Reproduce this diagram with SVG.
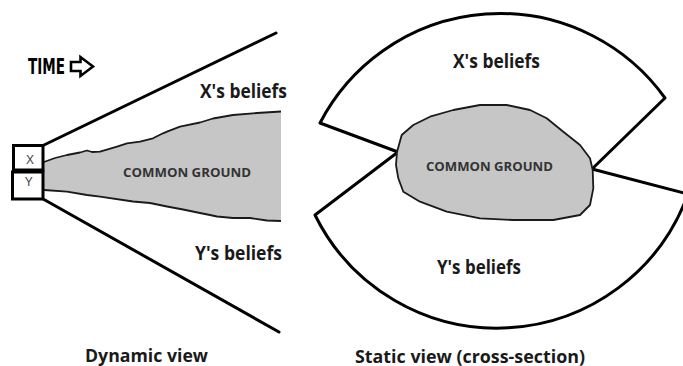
<svg xmlns="http://www.w3.org/2000/svg" width="683" height="366" viewBox="0 0 683 366">
<style>
.ln{fill:none;stroke:#000;stroke-width:3;stroke-linecap:round;stroke-linejoin:round}
.edge{fill:none;stroke:#1a1a1a;stroke-width:1.8;stroke-linejoin:round}
.gray{fill:#c6c6c6}
.lbl{font-family:"Open Sans","Liberation Sans",sans-serif;font-weight:bold;fill:#1a1a1a}
.cg{font-family:"Open Sans","Liberation Sans",sans-serif;font-weight:bold;fill:#333;font-size:12px}
.box{fill:#fff;stroke:#000;stroke-width:3}
.bx{font-family:"Liberation Sans",sans-serif;fill:#444;font-size:12px;text-anchor:middle}
</style>
<rect width="683" height="366" fill="#fff"/>

<g id="time">
<text x="28" y="74" font-family="DejaVu Sans Condensed,DejaVu Sans,sans-serif" font-weight="bold" font-size="21" textLength="37" lengthAdjust="spacingAndGlyphs" fill="#000">TIME</text>
<path d="M71,62 L80.5,62 L80.5,57 L93,66.5 L80.5,76 L80.5,71 L71,71 Z" fill="#fff" stroke="#000" stroke-width="2.6" stroke-linejoin="miter"/>
</g>

<g id="common-ground-left">
<path class="gray" d="M44,162 L55,158 L67,155 L80,152.5 L87,150.5 L92,152 L100,151.7 L117,146.7 L127,143.3 L140,141.7 L153,138.3 L163,133.3 L167,131.7 L180,126.7 L200,122.5 L213,118.5 L233,115 L257,113 L281,111.5 L281,221 L267,220.5 L250,218 L233,218 L217,216.5 L210,215 L200,213 L183,209.5 L167,206.5 L150,203 L133,201.5 L100,196.7 L87,195 L67,191.7 L44,190 Z"/>
<path class="edge" d="M44,162 L55,158 L67,155 L80,152.5 L87,150.5 L92,152 L100,151.7 L117,146.7 L127,143.3 L140,141.7 L153,138.3 L163,133.3 L167,131.7 L180,126.7 L200,122.5 L213,118.5 L233,115 L257,113 L281,111.5"/>
<path class="edge" d="M44,190 L67,191.7 L87,195 L100,196.7 L133,201.5 L150,203 L167,206.5 L183,209.5 L200,213 L210,215 L217,216.5 L233,218 L250,218 L267,220.5 L281,221"/>
<text class="cg" x="123" y="177" textLength="128" lengthAdjust="spacingAndGlyphs">COMMON GROUND</text>
</g>

<g id="box-x">
<rect class="box" x="13.5" y="145.5" width="29.5" height="24.5"/>
<text class="bx" x="30" y="164">X</text>
</g>
<g id="box-y">
<rect class="box" x="12.5" y="172" width="30.5" height="27"/>
<text class="bx" x="28.7" y="186">Y</text>
</g>

<g id="connectors">
<line class="ln" x1="44" y1="145" x2="276" y2="33"/>
<line class="ln" x1="44" y1="199.5" x2="279" y2="332"/>
</g>

<g id="labels-left">
<text class="lbl" x="200" y="98" font-size="19" textLength="87" lengthAdjust="spacingAndGlyphs">X's beliefs</text>
<text class="lbl" x="195" y="260" font-size="19" textLength="87" lengthAdjust="spacingAndGlyphs">Y's beliefs</text>
<text class="lbl" x="85" y="362" font-size="18" textLength="123" lengthAdjust="spacingAndGlyphs">Dynamic view</text>
</g>

<g id="x-wedge">
<path class="ln" d="M398,152 L320,123 A203,203 0 0 1 665,98 L592,169"/>
<text class="lbl" x="453" y="68" font-size="19" textLength="87" lengthAdjust="spacingAndGlyphs">X's beliefs</text>
</g>

<g id="y-wedge">
<path class="ln" d="M398,152 L315,215 A203,203 0 0 0 688,194 L592,169"/>
<text class="lbl" x="437" y="274" font-size="19" textLength="84" lengthAdjust="spacingAndGlyphs">Y's beliefs</text>
</g>

<g id="common-ground-right">
<path class="gray" stroke="#1a1a1a" stroke-width="1.8" stroke-linejoin="round" d="M397,152 L401.7,135 L413.3,125 L430,116.7 L453.3,110 L480,105 L506.7,105 L530,110 L546.7,118.3 L563.3,131.7 L580,145 L590,158.3 L592.7,170 L593.3,188.3 L590,205 L580,215 L553.3,220 L513.3,220 L480,218.3 L446.7,211.7 L420,201.7 L403.3,191.7 L398.3,178.3 L396,165 Z"/>
<text class="cg" x="426" y="171" textLength="127" lengthAdjust="spacingAndGlyphs">COMMON GROUND</text>
</g>

<g id="caption-right">
<text class="lbl" x="355" y="362.5" font-size="18" textLength="230" lengthAdjust="spacingAndGlyphs">Static view (cross-section)</text>
</g>
</svg>
